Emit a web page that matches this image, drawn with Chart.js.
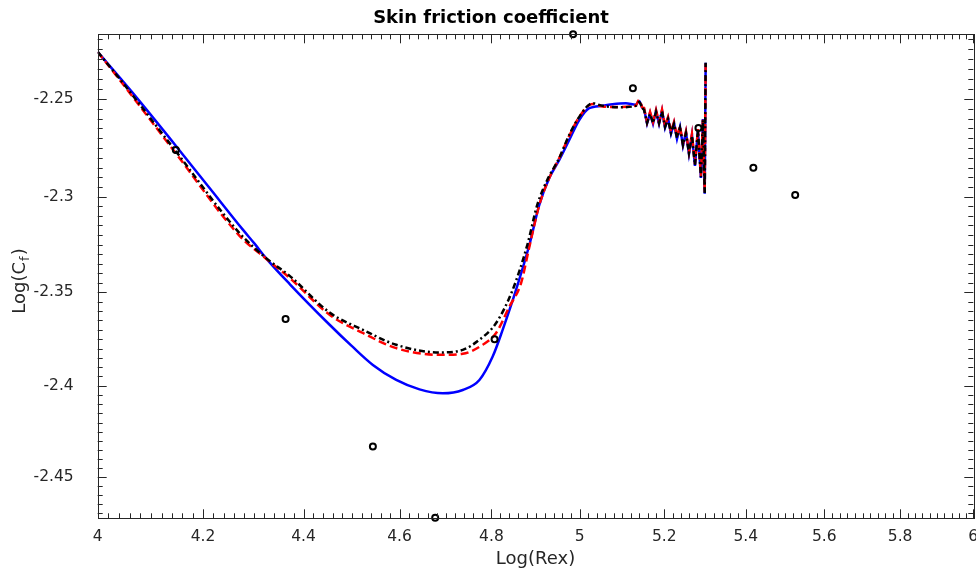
<!DOCTYPE html>
<html>
<head>
<meta charset="utf-8">
<script src="https://cdn.jsdelivr.net/npm/chart.js@4.4.1/dist/chart.umd.min.js"></script>
<style>
  html, body { margin: 0; padding: 0; background: #fff; }
</style>
</head>
<body>
<canvas id="chartCanvas" width="976" height="569"></canvas>
<script>
// axis ticks
const xTicks = [4, 4.2, 4.4, 4.6, 4.8, 5, 5.2, 5.4, 5.6, 5.8, 6];
const xTickLabels = ['4', '4.2', '4.4', '4.6', '4.8', '5', '5.2', '5.4', '5.6', '5.8', '6'];
const yTicks = [-2.45, -2.4, -2.35, -2.3, -2.25];
const yTickLabels = ['-2.45', '-2.4', '-2.35', '-2.3', '-2.25'];

// blue solid curve
const blueX = [4.000, 4.0634, 4.1488, 4.2131, 4.2785, 4.3017, 4.3250, 4.3719, 4.4535, 4.4992, 4.5436, 4.5930, 4.6428,
               4.6930, 4.7367, 4.7734, 4.8028, 4.8250, 4.8550, 4.8850, 4.9076, 4.9303, 4.9532, 4.9761, 4.9992,
               5.0223, 5.0533, 5.0767, 5.1083, 5.1318, 5.1397, 5.1475];
const blueY = [-2.2263, -2.2463, -2.2743, -2.2957, -2.3173, -2.3246, -2.3323, -2.3457, -2.3673, -2.3786, -2.3888, -2.3969, -2.4020,
               -2.4041, -2.4023, -2.3969, -2.3843, -2.3700, -2.3488, -2.3252, -2.3043, -2.2904, -2.2811, -2.2709, -2.2607,
               -2.2547, -2.2535, -2.2527, -2.2522, -2.2530, -2.2510, -2.2547];

// red dashed curve
const redX = [4.000, 4.0476, 4.1455, 4.2720, 4.3250, 4.3719, 4.4535, 4.5227, 4.5930, 4.6859, 4.7367, 4.7806,
              4.8104, 4.8400, 4.8662, 4.8850, 4.9076, 4.9303, 4.9532, 4.9761, 4.9992, 5.0300, 5.0533, 5.0925,
              5.1318, 5.1397, 5.1475];
const redY = [-2.2263, -2.2427, -2.2770, -2.3205, -2.3325, -2.3425, -2.3620, -2.3717, -2.3798, -2.3834, -2.3828, -2.3780,
              -2.3717, -2.3577, -2.3453, -2.3262, -2.3043, -2.2904, -2.2801, -2.2688, -2.2591, -2.2525, -2.2538, -2.2541,
              -2.2533, -2.2505, -2.2546];

// black dash-dot curve
const blackX = [4.000, 4.0476, 4.1455, 4.2720, 4.3250, 4.3719, 4.4535, 4.5227, 4.5930, 4.6859, 4.7367, 4.7734,
                4.8104, 4.8474, 4.8804, 4.9030, 4.9257, 4.9532, 4.9761, 4.9992, 5.0300, 5.0533, 5.0925, 5.1318,
                5.1397, 5.1475];
const blackY = [-2.2263, -2.2421, -2.2760, -2.3191, -2.3322, -2.3414, -2.3608, -2.3700, -2.3780, -2.3821, -2.3807, -2.3753,
                -2.3664, -2.3488, -2.3252, -2.3043, -2.2914, -2.2801, -2.2683, -2.2591, -2.2522, -2.2535, -2.2542, -2.2535,
                -2.2515, -2.2546];

// noisy end of the three curves (shared abscissa, starts at the last smooth point)
const oscX = [5.1475, 5.1516, 5.1587, 5.1659, 5.1730, 5.1802, 5.1874, 5.1946, 5.2018, 5.2090, 5.2162, 5.2235, 5.2307,
              5.2380, 5.2452, 5.2525, 5.2598, 5.2671, 5.2744, 5.2817, 5.2890, 5.2939, 5.2983, 5.3006];
const blueOscY = [-2.2547, -2.2551, -2.2625, -2.2571, -2.2626, -2.2561, -2.2627, -2.2559, -2.2646, -2.2597, -2.2677, -2.2622, -2.2703,
                  -2.2642, -2.2739, -2.2670, -2.2780, -2.2683, -2.2842, -2.2658, -2.2904, -2.2602, -2.2985, -2.2318];
const redOscY = [-2.2546, -2.2546, -2.2618, -2.2566, -2.2617, -2.2556, -2.2619, -2.2554, -2.2637, -2.2592, -2.2668, -2.2617, -2.2693,
                 -2.2637, -2.2729, -2.2665, -2.2770, -2.2678, -2.2832, -2.2653, -2.2894, -2.2597, -2.2975, -2.2318];
const blackOscY = [-2.2546, -2.2556, -2.2622, -2.2576, -2.2622, -2.2566, -2.2623, -2.2564, -2.2642, -2.2602, -2.2673, -2.2627, -2.2698,
                   -2.2647, -2.2734, -2.2675, -2.2775, -2.2688, -2.2837, -2.2663, -2.2899, -2.2607, -2.2981, -2.2318];

// experimental points (open circles)
const circleX = [4.1474, 4.3636, 4.5436, 4.6766, 4.8070, 4.9850, 5.1250, 5.2830, 5.4190, 5.5250];
const circleY = [-2.2760, -2.3643, -2.4330, -2.4724, -2.3751, -2.2175, -2.2446, -2.2647, -2.2851, -2.2992];

const AXIS_COLOR = '#262626';
const FONT = "'DejaVu Sans', sans-serif";

function toPoints(xs, ys) {
    return xs.map((x, i) => ({x: x, y: ys[i]}));
}

// y axis: log of |value| for negative data (MATLAB style)
class NegLogScale extends Chart.LinearScale {
    getPixelForValue(value) {
        const a = Math.log10(-this.min), b = Math.log10(-this.max);
        return this.getPixelForDecimal((Math.log10(-value) - a) / (b - a));
    }
    getValueForPixel(pixel) {
        const a = Math.log10(-this.min), b = Math.log10(-this.max);
        return -Math.pow(10, a + (b - a) * this.getDecimalForPixel(pixel));
    }
}
NegLogScale.id = 'neglog';
NegLogScale.defaults = Chart.LinearScale.defaults;
Chart.register(NegLogScale);

// minor tick positions
const xMinor = [];
for (let v = 400; v <= 600; v += 2) xMinor.push(v / 100);
const yMinor = [];
for (let v = 2220; v <= 2470; v += 5) yMinor.push(-v / 1000);

const axesBox = {
    id: 'axesBox',
    afterDraw(chart) {
        const {ctx, chartArea: a} = chart;
        const xs = chart.scales.x, ys = chart.scales.y;
        ctx.save();
        ctx.strokeStyle = AXIS_COLOR;
        ctx.lineWidth = 1;
        ctx.beginPath();
        xMinor.forEach(v => {
            const px = Math.round(xs.getPixelForValue(v)) + 0.5;
            const len = xTicks.some(t => Math.abs(t - v) < 1e-6) ? 9 : 5;
            ctx.moveTo(px, a.bottom); ctx.lineTo(px, a.bottom - len);
            ctx.moveTo(px, a.top); ctx.lineTo(px, a.top + len);
        });
        yMinor.forEach(v => {
            const py = Math.round(ys.getPixelForValue(v)) + 0.5;
            const len = yTicks.some(t => Math.abs(t - v) < 1e-6) ? 9 : 5;
            ctx.moveTo(a.left, py); ctx.lineTo(a.left + len, py);
            ctx.moveTo(a.right, py); ctx.lineTo(a.right - len, py);
        });
        ctx.stroke();
        ctx.strokeRect(Math.round(a.left) + 0.5, Math.round(a.top) + 0.5,
                       Math.round(a.right - a.left), Math.round(a.bottom - a.top));

        // x tick labels
        ctx.fillStyle = AXIS_COLOR;
        ctx.textAlign = 'center';
        ctx.textBaseline = 'middle';
        ctx.font = '15.5px ' + FONT;
        xTicks.forEach((v, i) => {
            ctx.fillText(xTickLabels[i], xs.getPixelForValue(v), 537);
        });

        // titles
        ctx.fillStyle = '#000';
        ctx.font = 'bold 18px ' + FONT;
        ctx.fillText('Skin friction coefficient', 491, 18);

        ctx.fillStyle = AXIS_COLOR;
        ctx.font = '18px ' + FONT;
        ctx.fillText('Log(Rex)', (a.left + a.right) / 2, 559);

        // y title with subscript
        ctx.translate(19, 281);
        ctx.rotate(-Math.PI / 2);
        ctx.textAlign = 'left';
        ctx.textBaseline = 'alphabetic';
        ctx.font = '18px ' + FONT;
        const w1 = ctx.measureText('Log(C').width;
        ctx.font = '13px ' + FONT;
        const w2 = ctx.measureText('f').width;
        ctx.font = '18px ' + FONT;
        const w3 = ctx.measureText(')').width;
        let x0 = -(w1 + w2 + 2 + w3) / 2;
        ctx.fillText('Log(C', x0, 6);
        ctx.font = '13px ' + FONT;
        ctx.fillText('f', x0 + w1 + 1, 10);
        ctx.font = '18px ' + FONT;
        ctx.fillText(')', x0 + w1 + w2 + 2, 6);
        ctx.restore();
    }
};

const smoothLine = {
    showLine: true,
    pointRadius: 0,
    borderWidth: 2.5,
    cubicInterpolationMode: 'monotone',
    fill: false
};
const noisyLine = {
    showLine: true,
    pointRadius: 0,
    borderWidth: 2.5,
    tension: 0,
    fill: false
};

new Chart(document.getElementById('chartCanvas').getContext('2d'), {
    type: 'scatter',
    data: {
        datasets: [
            {
                label: 'points',
                data: toPoints(circleX, circleY),
                showLine: false,
                pointRadius: 3,
                pointBorderWidth: 2,
                pointBackgroundColor: 'rgba(255,255,255,0)',
                pointBorderColor: '#000',
                clip: false,
                order: 0
            },
            Object.assign({}, smoothLine, {
                label: 'black',
                data: toPoints(blackX, blackY),
                borderColor: '#000000',
                borderDash: [6, 3, 2, 3],
                order: 1
            }),
            Object.assign({}, noisyLine, {
                label: 'black end',
                data: toPoints(oscX, blackOscY),
                borderColor: '#000000',
                borderDash: [6, 3, 2, 3],
                order: 1
            }),
            Object.assign({}, smoothLine, {
                label: 'red',
                data: toPoints(redX, redY),
                borderColor: '#ff0000',
                borderDash: [8, 4],
                order: 2
            }),
            Object.assign({}, noisyLine, {
                label: 'red end',
                data: toPoints(oscX, redOscY),
                borderColor: '#ff0000',
                borderDash: [8, 4],
                order: 2
            }),
            Object.assign({}, smoothLine, {
                label: 'blue',
                data: toPoints(blueX, blueY),
                borderColor: '#0000ff',
                order: 3
            }),
            Object.assign({}, noisyLine, {
                label: 'blue end',
                data: toPoints(oscX, blueOscY),
                borderColor: '#0000ff',
                order: 3
            })
        ]
    },
    options: {
        responsive: false,
        animation: false,
        layout: {autoPadding: false, padding: {top: 34.3, right: 2.7, bottom: 0, left: 0}},
        plugins: {
            legend: {display: false},
            tooltip: {enabled: false},
            title: {display: false}
        },
        scales: {
            x: {
                type: 'logarithmic',
                min: 4,
                max: 6,
                grid: {display: false},
                border: {display: false},
                ticks: {display: false},
                afterBuildTicks: s => { s.ticks = xTicks.map(v => ({value: v})); },
                afterFit: s => { s.height = 50.7; }
            },
            y: {
                type: 'neglog',
                min: -2.4727,
                max: -2.2175,
                grid: {display: false},
                border: {display: false},
                afterBuildTicks: s => { s.ticks = yTicks.map(v => ({value: v})); },
                afterFit: s => { s.width = 97.7; },
                ticks: {
                    autoSkip: false,
                    padding: 16,
                    color: AXIS_COLOR,
                    font: {family: FONT, size: 15.5},
                    callback: (v, i) => yTickLabels[i]
                }
            }
        }
    },
    plugins: [axesBox]
});
</script>
</body>
</html>
